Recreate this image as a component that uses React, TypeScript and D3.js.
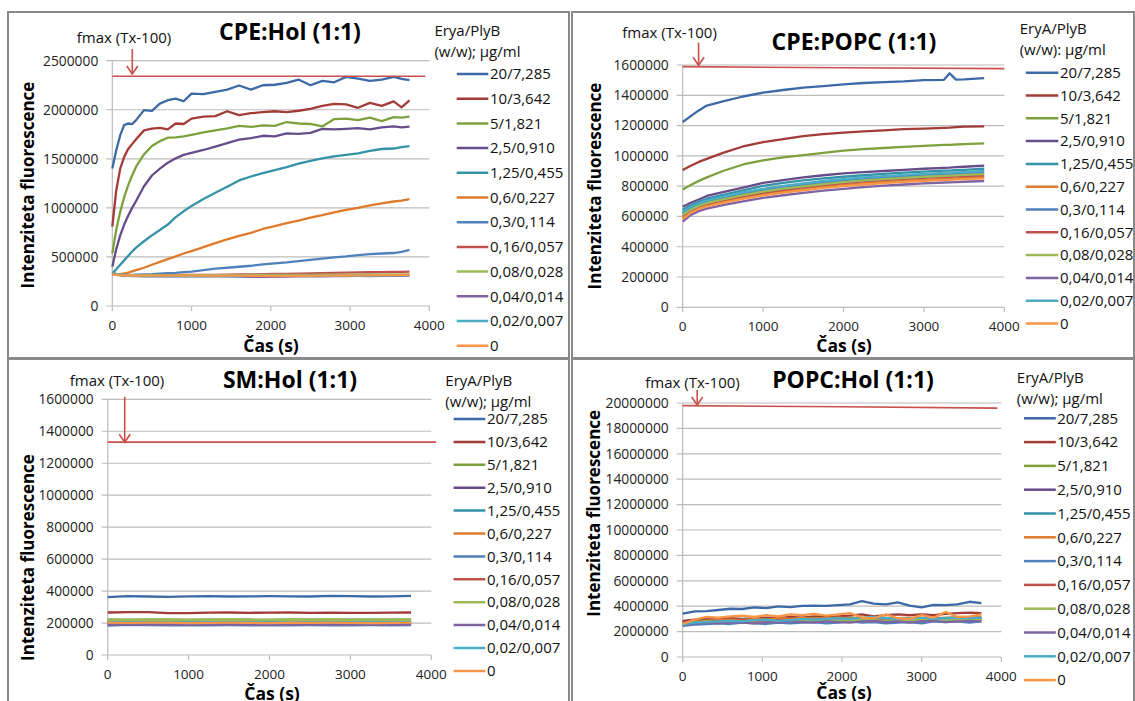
import * as d3 from "d3";

// legend labels + colours (Excel 2010 style, 12 series)
const labels = ["20/7,285", "10/3,642", "5/1,821", "2,5/0,910", "1,25/0,455", "0,6/0,227", "0,3/0,114", "0,16/0,057", "0,08/0,028", "0,04/0,014", "0,02/0,007", "0"];
const colors = ["#3d6aa6", "#a33b37", "#7ea13d", "#674c8a", "#3593a8", "#df7a2b", "#4f81bd", "#c0504d", "#9bbb59", "#8064a2", "#4bacc6", "#f79646"];

// ---------- CPE:Hol (values in thousands) ----------
const tCpeHol = [0, 50, 100, 150, 200, 250, 300, 400, 500, 600, 700, 800, 900, 1000, 1150, 1300, 1450, 1600, 1750, 1900, 2050, 2200, 2350, 2500, 2650, 2800, 2950, 3100, 3250, 3400, 3550, 3650, 3750];
const cpeHol1 = [1402, 1588, 1741, 1843, 1860, 1853, 1894, 1996, 1989, 2063, 2097, 2114, 2087, 2165, 2159, 2182, 2206, 2247, 2206, 2250, 2255, 2274, 2308, 2250, 2294, 2280, 2335, 2318, 2294, 2308, 2335, 2315, 2301];
const cpeHol2 = [808, 1180, 1400, 1520, 1600, 1650, 1700, 1790, 1808, 1815, 1800, 1860, 1855, 1910, 1930, 1935, 1985, 1945, 1965, 1975, 1985, 1975, 1990, 2010, 2040, 2060, 2055, 2020, 2070, 2040, 2085, 2025, 2095];
const cpeHol3 = [536, 780, 960, 1110, 1230, 1330, 1420, 1545, 1630, 1680, 1715, 1718, 1728, 1745, 1770, 1790, 1810, 1835, 1825, 1840, 1835, 1875, 1860, 1855, 1830, 1905, 1910, 1895, 1920, 1885, 1925, 1920, 1930];
const cpeHol4 = [400, 580, 720, 830, 920, 1000, 1070, 1220, 1330, 1400, 1460, 1505, 1540, 1560, 1590, 1625, 1660, 1695, 1710, 1735, 1728, 1760, 1755, 1765, 1805, 1800, 1805, 1812, 1800, 1820, 1830, 1820, 1828];
const cpeHol5 = [333, 375, 420, 465, 510, 555, 595, 660, 720, 775, 830, 905, 965, 1020, 1090, 1155, 1215, 1280, 1320, 1355, 1385, 1415, 1450, 1480, 1505, 1525, 1540, 1555, 1580, 1600, 1605, 1620, 1630];
const cpeHol6 = [322, 322, 325, 332, 340, 352, 365, 390, 420, 450, 478, 505, 535, 560, 600, 640, 680, 715, 745, 785, 815, 845, 870, 900, 925, 955, 980, 1000, 1025, 1045, 1065, 1075, 1090];
const cpeHol7 = [335, 328, 322, 320, 318, 318, 320, 322, 325, 330, 335, 338, 345, 350, 365, 380, 390, 400, 410, 425, 435, 445, 458, 470, 482, 495, 505, 518, 528, 535, 540, 552, 572];
const cpeHol8 = [332, 325, 318, 315, 313, 312, 312, 312, 313, 313, 314, 315, 316, 316, 318, 318, 320, 322, 322, 324, 326, 328, 330, 332, 335, 338, 340, 342, 344, 345, 347, 348, 350];
const cpeHol9 = [330, 325, 320, 318, 316, 315, 315, 314, 314, 313, 313, 313, 313, 314, 314, 315, 315, 315, 316, 316, 317, 317, 318, 318, 319, 319, 320, 320, 321, 321, 322, 322, 322];
const cpeHol10 = [325, 318, 312, 308, 306, 305, 304, 303, 303, 302, 302, 302, 302, 301, 301, 301, 302, 300, 298, 296, 298, 300, 301, 302, 303, 304, 305, 306, 306, 307, 308, 308, 309];
const cpeHol11 = [330, 322, 315, 311, 309, 308, 307, 306, 306, 305, 305, 305, 305, 305, 305, 306, 306, 306, 307, 307, 307, 308, 308, 309, 309, 310, 310, 311, 311, 312, 312, 312, 313];
const cpeHol12 = [322, 318, 314, 312, 311, 310, 310, 310, 310, 310, 309, 309, 309, 309, 310, 310, 310, 309, 308, 306, 305, 306, 307, 308, 309, 310, 311, 312, 313, 314, 315, 316, 318];
const fmaxCpeHolT = [0, 3950];
const fmaxCpeHol = [2342, 2342];

// ---------- CPE:POPC ----------
const tCpePopc = [0, 100, 200, 300, 500, 750, 1000, 1250, 1500, 1750, 2000, 2250, 2500, 2750, 3000, 3250, 3320, 3400, 3500, 3750];
const cpePopc1 = [1224, 1262, 1300, 1332, 1360, 1392, 1418, 1435, 1451, 1461, 1472, 1481, 1487, 1492, 1500, 1502, 1545, 1503, 1505, 1513];
const cpePopc2 = [906, 935, 960, 980, 1020, 1062, 1090, 1110, 1130, 1143, 1153, 1162, 1168, 1176, 1180, 1185, 1186, 1190, 1193, 1195];
const cpePopc3 = [778, 808, 835, 858, 900, 943, 970, 990, 1005, 1020, 1035, 1045, 1052, 1060, 1066, 1072, 1073, 1075, 1078, 1082];
const cpePopc4 = [664, 690, 712, 735, 760, 790, 822, 840, 858, 872, 884, 893, 900, 908, 915, 921, 922, 925, 928, 935];
const cpePopc5 = [644, 674, 697, 718, 743, 772, 802, 822, 838, 852, 862, 872, 881, 889, 896, 902, 903, 905, 908, 915];
const cpePopc6 = [590, 630, 654, 673, 696, 723, 745, 764, 780, 795, 807, 818, 827, 835, 842, 848, 849, 852, 854, 859];
const cpePopc7 = [619, 654, 677, 698, 722, 750, 773, 792, 809, 824, 837, 847, 856, 864, 871, 877, 878, 881, 883, 890];
const cpePopc8 = [603, 640, 664, 684, 707, 734, 757, 776, 792, 807, 820, 831, 840, 848, 855, 861, 862, 864, 867, 872];
const cpePopc9 = [610, 646, 670, 689, 713, 741, 764, 783, 799, 814, 827, 838, 847, 855, 862, 868, 869, 871, 874, 879];
const cpePopc10 = [565, 610, 635, 652, 675, 700, 722, 740, 756, 770, 782, 793, 803, 811, 818, 824, 825, 827, 829, 834];
const cpePopc11 = [629, 662, 685, 706, 730, 759, 782, 802, 818, 834, 847, 857, 866, 874, 881, 887, 888, 891, 893, 900];
const cpePopc12 = [583, 624, 649, 667, 690, 716, 739, 757, 773, 788, 800, 811, 820, 828, 835, 841, 842, 845, 847, 852];
const fmaxCpePopcT = [0, 2000, 4000];
const fmaxCpePopc = [1589, 1582, 1576];

// ---------- SM:Hol ----------
const tSmHol = [0, 250, 500, 750, 1000, 1250, 1500, 1750, 2000, 2250, 2500, 2750, 3000, 3250, 3500, 3750];
const smHol1 = [362, 368, 366, 364, 367, 368, 366, 367, 368, 367, 366, 370, 368, 366, 367, 370];
const smHol2 = [266, 268, 268, 262, 262, 265, 266, 264, 265, 266, 264, 265, 263, 264, 265, 266];
const smHol3 = [222, 221, 223, 222, 221, 222, 223, 222, 221, 222, 223, 222, 222, 223, 222, 222];
const smHol4 = [208, 209, 208, 207, 208, 209, 208, 208, 207, 208, 209, 208, 208, 209, 208, 209];
const smHol5 = [214, 213, 214, 213, 214, 215, 214, 213, 214, 214, 215, 214, 213, 214, 215, 214];
const smHol6 = [198, 199, 198, 197, 198, 199, 198, 198, 199, 198, 199, 198, 198, 199, 198, 199];
const smHol7 = [184, 188, 187, 186, 185, 186, 187, 186, 185, 186, 187, 186, 186, 187, 186, 187];
const smHol8 = [193, 194, 193, 192, 193, 194, 193, 192, 193, 194, 193, 192, 193, 194, 193, 194];
const smHol9 = [218, 219, 218, 219, 218, 219, 218, 219, 218, 219, 218, 219, 218, 219, 218, 219];
const smHol10 = [190, 191, 190, 189, 190, 191, 190, 189, 190, 191, 190, 189, 190, 191, 190, 191];
const smHol11 = [204, 205, 204, 203, 204, 205, 204, 203, 204, 205, 204, 203, 204, 205, 204, 205];
const smHol12 = [202, 201, 203, 202, 200, 201, 202, 201, 200, 202, 201, 202, 201, 200, 201, 202];
const fmaxSmHolT = [0, 4060];
const fmaxSmHol = [1332, 1332];

// ---------- POPC:Hol ----------
const tPopcHol = [0, 150, 300, 450, 600, 750, 900, 1050, 1200, 1350, 1500, 1650, 1800, 1950, 2100, 2250, 2400, 2550, 2700, 2850, 3000, 3150, 3300, 3450, 3600, 3750];
const popcHol1 = [3420, 3600, 3620, 3700, 3800, 3780, 3900, 3850, 3980, 3920, 4020, 4050, 4030, 4080, 4150, 4400, 4200, 4150, 4300, 4050, 3900, 4100, 4080, 4150, 4350, 4250];
const popcHol2 = [2850, 2950, 3000, 2950, 3050, 3000, 3050, 3100, 3050, 3150, 3100, 3200, 3150, 3200, 3250, 3350, 3200, 3300, 3350, 3300, 3350, 3300, 3400, 3450, 3500, 3450];
const popcHol3 = [2700, 2800, 2850, 2900, 2880, 2950, 2900, 2950, 3000, 2950, 3000, 3050, 2980, 3000, 3100, 3000, 2950, 3050, 3000, 2980, 3050, 3000, 3100, 3050, 3050, 3100];
const popcHol4 = [2750, 2850, 2800, 2900, 2850, 2900, 2950, 2900, 2950, 3000, 2900, 2950, 3000, 2950, 3050, 3000, 2950, 3000, 3050, 2950, 3000, 3050, 3000, 3100, 3000, 3050];
const popcHol5 = [2550, 2700, 2750, 2800, 2750, 2850, 2800, 2900, 2850, 2900, 2950, 2900, 2950, 3000, 2950, 3050, 2900, 2950, 3000, 2950, 3000, 2950, 3050, 3000, 3100, 3050];
const popcHol6 = [2650, 2800, 2850, 2900, 2950, 2900, 3000, 2950, 3050, 3000, 3100, 3000, 3050, 3100, 3050, 3000, 3100, 2900, 3050, 3100, 3000, 3100, 3050, 3150, 3100, 3150];
const popcHol7 = [2450, 2550, 2600, 2650, 2600, 2700, 2650, 2600, 2700, 2650, 2700, 2750, 2650, 2700, 2800, 2700, 2750, 2650, 2700, 2750, 2650, 2800, 2750, 2800, 2700, 2800];
const popcHol8 = [2700, 2800, 2750, 2850, 2800, 2900, 2850, 2800, 2900, 2850, 2950, 2900, 2850, 2950, 2900, 3000, 2950, 2900, 3000, 2950, 2900, 3000, 3050, 2950, 3000, 3050];
const popcHol9 = [2600, 2750, 2800, 2750, 2850, 2800, 2900, 2850, 2800, 2900, 2850, 2900, 2950, 2850, 2900, 2950, 2900, 2850, 2950, 2900, 2950, 3000, 2900, 2950, 3000, 2950];
const popcHol10 = [2500, 2650, 2700, 2650, 2750, 2700, 2650, 2750, 2700, 2800, 2750, 2700, 2800, 2750, 2700, 2800, 2850, 2750, 2800, 2700, 2800, 2850, 2750, 2800, 2850, 2800];
const popcHol11 = [2550, 2700, 2750, 2800, 2850, 2800, 2900, 2950, 2850, 2900, 3000, 2950, 3000, 3050, 3000, 3100, 3150, 3050, 3000, 3050, 3100, 3000, 3050, 3100, 3050, 3100];
const popcHol12 = [2600, 2950, 3150, 3100, 3200, 3250, 3150, 3300, 3200, 3350, 3300, 3400, 3250, 3350, 3450, 3100, 3050, 3350, 3050, 3000, 3300, 3100, 3550, 3150, 3200, 3350];
const fmaxPopcHolT = [0, 2000, 3950];
const fmaxPopcHol = [19790, 19700, 19600];

const FONT = "'Open Sans', sans-serif";

const panels = [
  {
    time: tCpeHol,
    series: [cpeHol1, cpeHol2, cpeHol3, cpeHol4, cpeHol5, cpeHol6, cpeHol7, cpeHol8, cpeHol9, cpeHol10, cpeHol11, cpeHol12],
    fmaxT: fmaxCpeHolT, fmaxV: fmaxCpeHol,
    yMax: 2500, yStep: 500,
    frame: [8, 12, 569, 358],
    plot: { left: 112.3, right: 429.3, bottom: 306, top: 60.7 },
    title: "CPE:Hol (1:1)", titleX: 290, titleY: 32,
    fmaxX: 124, fmaxY: 37.3,
    arrowX: 132.3, arrowTop: 49, arrowBottom: 74,
    leg1: "Erya/PlyB", leg2: "(w/w); µg/ml", legX: 434.4, legY1: 30.5, legY2: 51.5,
    lineX0: 456.7, lineX1: 488.3, textX: 490, legY0: 74, legDy: 24.7,
    yLabX: 28, yLabY: 185, xLabX: 271, xLabY: 345.5,
  },
  {
    time: tCpePopc,
    series: [cpePopc1, cpePopc2, cpePopc3, cpePopc4, cpePopc5, cpePopc6, cpePopc7, cpePopc8, cpePopc9, cpePopc10, cpePopc11, cpePopc12],
    fmaxT: fmaxCpePopcT, fmaxV: fmaxCpePopc,
    yMax: 1600, yStep: 200,
    frame: [572, 12, 1134, 358],
    plot: { left: 682.7, right: 1004.3, bottom: 307.3, top: 65 },
    title: "CPE:POPC (1:1)", titleX: 854, titleY: 41.7,
    fmaxX: 669.6, fmaxY: 32.3,
    arrowX: 698.6, arrowTop: 42.7, arrowBottom: 65.3,
    leg1: "EryA/PlyB", leg2: "(w/w): µg/ml", legX: 1019.7, legY1: 29, legY2: 49.3,
    lineX0: 1025.8, lineX1: 1058.3, textX: 1060, legY0: 72.7, legDy: 22.8,
    yLabX: 595, yLabY: 186, xLabX: 844, xLabY: 345.5,
  },
  {
    time: tSmHol,
    series: [smHol1, smHol2, smHol3, smHol4, smHol5, smHol6, smHol7, smHol8, smHol9, smHol10, smHol11, smHol12],
    fmaxT: fmaxSmHolT, fmaxV: fmaxSmHol,
    yMax: 1600, yStep: 200,
    frame: [8, 359, 569, 712],
    plot: { left: 107.7, right: 431.3, bottom: 655, top: 399.3 },
    title: "SM:Hol (1:1)", titleX: 290, titleY: 380,
    fmaxX: 117, fmaxY: 381,
    arrowX: 124.7, arrowTop: 396.7, arrowBottom: 442.3,
    leg1: "EryA/PlyB", leg2: "(w/w); µg/ml", legX: 445.3, legY1: 381, legY2: 401.7,
    lineX0: 453.6, lineX1: 485.3, textX: 487, legY0: 419, legDy: 22.9,
    yLabX: 28.4, yLabY: 557.5, xLabX: 272, xLabY: 693.5,
  },
  {
    time: tPopcHol,
    series: [popcHol1, popcHol2, popcHol3, popcHol4, popcHol5, popcHol6, popcHol7, popcHol8, popcHol9, popcHol10, popcHol11, popcHol12],
    fmaxT: fmaxPopcHolT, fmaxV: fmaxPopcHol,
    yMax: 20000, yStep: 2000,
    frame: [572, 359, 1134, 712],
    plot: { left: 682.7, right: 1001.3, bottom: 657, top: 403 },
    title: "POPC:Hol (1:1)", titleX: 853, titleY: 380,
    fmaxX: 692.5, fmaxY: 382.3,
    arrowX: 697.2, arrowTop: 390, arrowBottom: 405,
    leg1: "EryA/PlyB", leg2: "(w/w); µg/ml", legX: 1016.8, legY1: 377.7, legY2: 398.3,
    lineX0: 1024, lineX1: 1055.8, textX: 1057.2, legY0: 418.3, legDy: 23.8,
    yLabX: 594.5, yLabY: 513.3, xLabX: 844, xLabY: 693,
  },
];

function Panel({ p }: { p: (typeof panels)[number] }) {
  const { plot } = p;
  const x = d3.scaleLinear().domain([0, 4000]).range([plot.left, plot.right]);
  const y = d3.scaleLinear().domain([0, p.yMax]).range([plot.bottom, plot.top]);
  const yTicks = d3.range(0, p.yMax + 1, p.yStep);
  const xTicks = [0, 1000, 2000, 3000, 4000];

  const seriesLine = d3
    .line<number>()
    .x((_, i) => x(p.time[i]))
    .y((d) => y(d));
  const fmaxLine = d3
    .line<number>()
    .x((_, i) => x(p.fmaxT[i]))
    .y((d) => y(d));

  const [fx0, fy0, fx1, fy1] = p.frame;

  return (
    <g>
      <rect x={fx0} y={fy0} width={fx1 - fx0} height={fy1 - fy0} fill="white" stroke="#8a8a8a" strokeWidth={2} />

      {/* grid + y axis */}
      {yTicks.map((v) => (
        <g key={v}>
          <line x1={plot.left - 6} x2={plot.right} y1={y(v)} y2={y(v)} stroke="#bcbcbc" strokeWidth={1.2} />
          <text x={plot.left - 14} y={y(v)} dy="0.35em" textAnchor="end" fontSize={13.8} fontFamily={FONT} fill="#222">
            {v * 1000}
          </text>
        </g>
      ))}
      <line x1={plot.left} x2={plot.left} y1={plot.top} y2={plot.bottom} stroke="#bcbcbc" strokeWidth={1.2} />
      {xTicks.map((t) => (
        <g key={t}>
          <line x1={x(t)} x2={x(t)} y1={plot.bottom} y2={plot.bottom + 5} stroke="#bcbcbc" strokeWidth={1.2} />
          <text x={x(t)} y={plot.bottom + 19} dy="0.35em" textAnchor="middle" fontSize={13.5} fontFamily={FONT} fill="#222">
            {t}
          </text>
        </g>
      ))}

      {/* data */}
      {p.series.map((s, i) => (
        <path key={i} d={seriesLine(s) ?? ""} fill="none" stroke={colors[i]} strokeWidth={2.3} strokeLinejoin="round" />
      ))}
      <path d={fmaxLine(p.fmaxV) ?? ""} fill="none" stroke="#c9504c" strokeWidth={1.6} />

      {/* fmax marker */}
      <text x={p.fmaxX} y={p.fmaxY} dy="0.35em" textAnchor="middle" fontSize={15} fontFamily={FONT} fill="#111">
        fmax (Tx-100)
      </text>
      <line x1={p.arrowX} x2={p.arrowX} y1={p.arrowTop} y2={p.arrowBottom} stroke="#c9504c" strokeWidth={1.6} />
      <polyline
        points={`${p.arrowX - 5.5},${p.arrowBottom - 8} ${p.arrowX},${p.arrowBottom} ${p.arrowX + 5.5},${p.arrowBottom - 8}`}
        fill="none"
        stroke="#c9504c"
        strokeWidth={1.6}
      />

      <text x={p.titleX} y={p.titleY} dy="0.35em" textAnchor="middle" fontSize={23} fontWeight="bold" fontFamily={FONT}>
        {p.title}
      </text>
      <text
        transform={`translate(${p.yLabX},${p.yLabY}) rotate(-90)`}
        dy="0.35em"
        textAnchor="middle"
        fontSize={17}
        fontWeight="bold"
        fontFamily={FONT}
      >
        Intenziteta fluorescence
      </text>
      <text x={p.xLabX} y={p.xLabY} dy="0.35em" textAnchor="middle" fontSize={17.5} fontWeight="bold" fontFamily={FONT}>
        Čas (s)
      </text>

      {/* legend */}
      <text x={p.legX} y={p.legY1} dy="0.35em" fontSize={15} fontFamily={FONT} fill="#111">
        {p.leg1}
      </text>
      <text x={p.legX} y={p.legY2} dy="0.35em" fontSize={15} fontFamily={FONT} fill="#111">
        {p.leg2}
      </text>
      {labels.map((lab, i) => {
        const ly = p.legY0 + i * p.legDy;
        return (
          <g key={lab}>
            <line x1={p.lineX0} x2={p.lineX1} y1={ly} y2={ly} stroke={colors[i]} strokeWidth={2.5} />
            <text x={p.textX} y={ly} dy="0.35em" fontSize={15} fontFamily={FONT} fill="#111">
              {lab}
            </text>
          </g>
        );
      })}
    </g>
  );
}

export default function App() {
  return (
    <svg width={1135} height={701} style={{ position: "absolute", left: 0, top: 0, background: "white" }}>
      <rect width={1135} height={701} fill="white" />
      {panels.map((p) => (
        <Panel key={p.title} p={p} />
      ))}
    </svg>
  );
}
